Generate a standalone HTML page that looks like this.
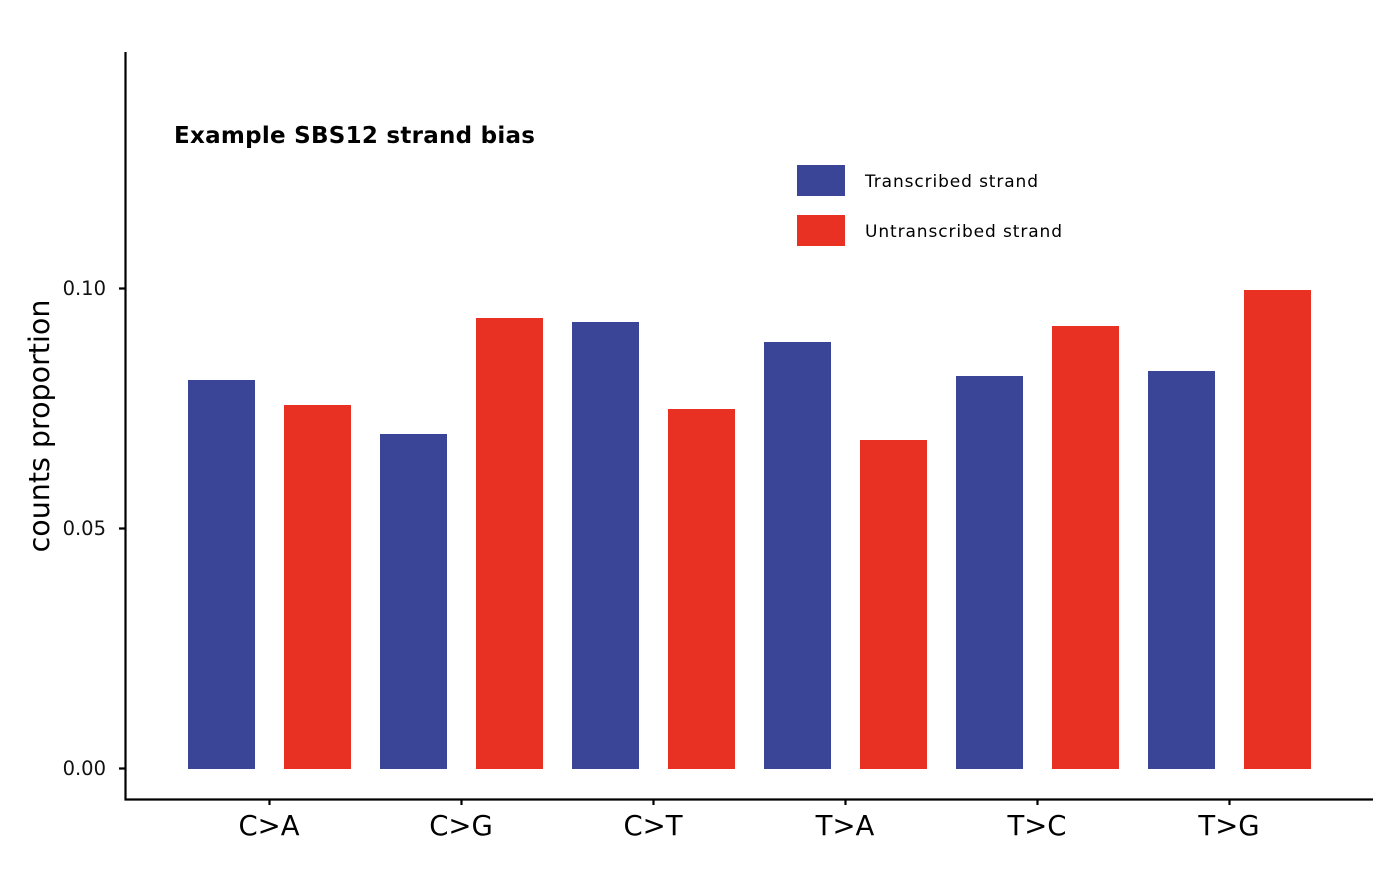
<!DOCTYPE html>
<html><head><meta charset="utf-8"><style>body{margin:0;background:#fff}</style></head><body>
<svg width="1400" height="866" xmlns="http://www.w3.org/2000/svg" font-family="'DejaVu Sans','Liberation Sans',sans-serif">
<rect width="1400" height="866" fill="#fff"/>
<g fill="#3A4598">
<rect x="188" y="380" width="67" height="389"/>
<rect x="380" y="434" width="67" height="335"/>
<rect x="572" y="322" width="67" height="447"/>
<rect x="764" y="342" width="67" height="427"/>
<rect x="956" y="376" width="67" height="393"/>
<rect x="1148" y="371" width="67" height="398"/>
</g>
<g fill="#E83122">
<rect x="284" y="405" width="67" height="364"/>
<rect x="476" y="318" width="67" height="451"/>
<rect x="668" y="409" width="67" height="360"/>
<rect x="860" y="440" width="67" height="329"/>
<rect x="1052" y="326" width="67" height="443"/>
<rect x="1244" y="290" width="67" height="479"/>
</g>
<g stroke="#000" stroke-width="2.2" fill="none">
<path d="M125.5 52V799.5H1373"/>
<path d="M119 768.5H125M119 528.5H125M119 288.5H125"/>
<path d="M269.5 799V805M461.5 799V805M653.5 799V805M845.5 799V805M1037.5 799V805M1229.5 799V805"/>
</g>
<g font-size="19.5" text-anchor="end" fill="#111">
<text x="106" y="775">0.00</text>
<text x="106" y="535">0.05</text>
<text x="106" y="295">0.10</text>
</g>
<g font-size="27.5" text-anchor="middle" fill="#000">
<text x="269" y="835">C&gt;A</text>
<text x="461" y="835">C&gt;G</text>
<text x="653" y="835">C&gt;T</text>
<text x="845" y="835">T&gt;A</text>
<text x="1037" y="835">T&gt;C</text>
<text x="1229" y="835">T&gt;G</text>
</g>
<text transform="translate(49,426) rotate(-90)" font-size="28.5" text-anchor="middle">counts proportion</text>
<text x="174" y="143" font-size="23" font-weight="bold" textLength="361" lengthAdjust="spacing">Example SBS12 strand bias</text>
<rect x="797" y="165" width="48" height="31" fill="#3A4598"/>
<rect x="797" y="215" width="48" height="31" fill="#E83122"/>
<text x="865" y="187" font-size="17" textLength="173" lengthAdjust="spacing">Transcribed strand</text>
<text x="865" y="237" font-size="17" textLength="197" lengthAdjust="spacing">Untranscribed strand</text>
</svg>
</body></html>
